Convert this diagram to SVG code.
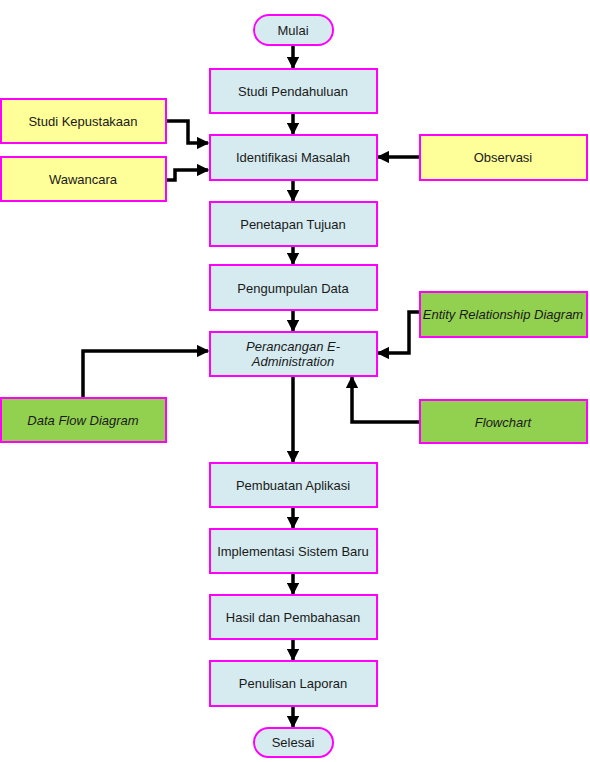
<svg xmlns="http://www.w3.org/2000/svg" width="590" height="762" viewBox="0 0 590 762">
<style>
.b{fill:#d5ebf0;stroke:#f0f;stroke-width:2}
.y{fill:#ffff99;stroke:#f0f;stroke-width:2}
.g{fill:#92d050;stroke:#f0f;stroke-width:2}
text{font-family:"Liberation Sans",Arial,sans-serif;font-size:13px;fill:#1a1a1a;text-anchor:middle;dominant-baseline:central}
.i{font-style:italic}
.c{fill:none;stroke:#000;stroke-width:3.5;marker-end:url(#a)}
</style>
<defs>
<marker id="a" viewBox="0 0 10 10" refX="9" refY="5" markerWidth="3.6" markerHeight="3.6" orient="auto" markerUnits="strokeWidth">
<path d="M0,0L10,5L0,10z" fill="#000"/>
</marker>
</defs>
<rect x="0" y="0" width="590" height="762" fill="#fff"/>
<g id="connectors">
<path class="c" d="M293,46V68"/>
<path class="c" d="M293,114V134"/>
<path class="c" d="M293,181V201"/>
<path class="c" d="M293,247V264"/>
<path class="c" d="M293,311V331"/>
<path class="c" d="M293,377V462"/>
<path class="c" d="M293,508V528"/>
<path class="c" d="M293,574V594"/>
<path class="c" d="M293,640V660"/>
<path class="c" d="M293,707V727"/>
<path class="c" d="M166,121H188V143H208"/>
<path class="c" d="M166,180H175V170H208"/>
<path class="c" d="M420,157H378"/>
<path class="c" d="M420,312H409V353H378"/>
<path class="c" d="M420,422H352V377"/>
<path class="c" d="M83,397V351H208"/>
</g>
<g id="mulai"><rect class="b" x="254" y="15" width="79" height="30" rx="15"/><text x="293" y="30">Mulai</text></g>
<g id="studi-pendahuluan"><rect class="b" x="210" y="69" width="167" height="44"/><text x="293" y="91">Studi Pendahuluan</text></g>
<g id="identifikasi-masalah"><rect class="b" x="210" y="135" width="167" height="45"/><text x="293" y="157">Identifikasi Masalah</text></g>
<g id="penetapan-tujuan"><rect class="b" x="210" y="202" width="167" height="44"/><text x="293" y="224">Penetapan Tujuan</text></g>
<g id="pengumpulan-data"><rect class="b" x="210" y="265" width="167" height="45"/><text x="293" y="288">Pengumpulan Data</text></g>
<g id="perancangan"><rect class="b" x="210" y="332" width="167" height="44"/><text class="i" x="293" y="346">Perancangan E-</text><text class="i" x="293" y="361">Administration</text></g>
<g id="pembuatan-aplikasi"><rect class="b" x="210" y="463" width="167" height="44"/><text x="293" y="485">Pembuatan Aplikasi</text></g>
<g id="implementasi"><rect class="b" x="210" y="529" width="167" height="44"/><text x="293" y="551">Implementasi Sistem Baru</text></g>
<g id="hasil"><rect class="b" x="210" y="595" width="167" height="44"/><text x="293" y="617">Hasil dan Pembahasan</text></g>
<g id="penulisan"><rect class="b" x="210" y="661" width="167" height="45"/><text x="293" y="683">Penulisan Laporan</text></g>
<g id="selesai"><rect class="b" x="254" y="728" width="79" height="29" rx="14.5"/><text x="293" y="742">Selesai</text></g>
<g id="studi-kepustakaan"><rect class="y" x="1" y="99" width="165" height="44"/><text x="83" y="121">Studi Kepustakaan</text></g>
<g id="wawancara"><rect class="y" x="1" y="157" width="165" height="44"/><text x="83" y="179">Wawancara</text></g>
<g id="observasi"><rect class="y" x="420" y="135" width="167" height="45"/><text x="503" y="157">Observasi</text></g>
<g id="erd"><rect class="g" x="420" y="292" width="167" height="45"/><text class="i" x="503" y="314">Entity Relationship Diagram</text></g>
<g id="dfd"><rect class="g" x="1" y="398" width="165" height="44"/><text class="i" x="83" y="420">Data Flow Diagram</text></g>
<g id="flowchart"><rect class="g" x="420" y="400" width="167" height="43"/><text class="i" x="503" y="422">Flowchart</text></g>
</svg>
